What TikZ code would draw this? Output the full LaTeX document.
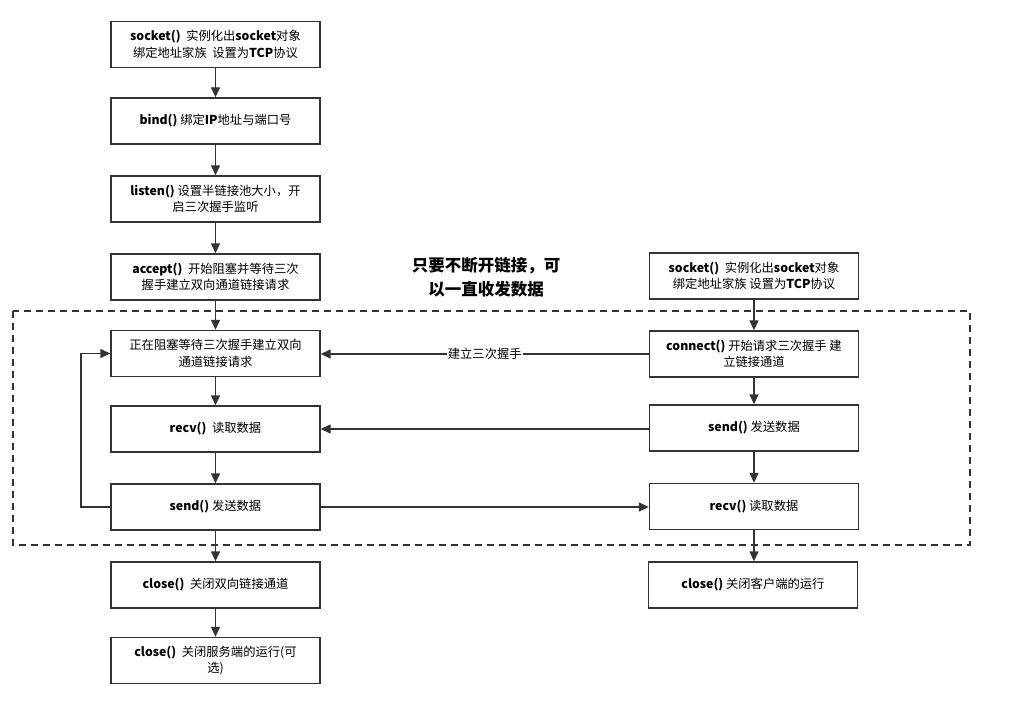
\documentclass[tikz,border=0pt]{standalone}
\usepackage{fontspec}
\setmainfont{Noto Sans CJK SC}
\usetikzlibrary{arrows.meta}
\definecolor{ln}{HTML}{333333}
\tikzset{
  box/.style={draw=ln, line width=1.4pt, minimum width=209pt, minimum height=46pt,
    align=center, font=\fontsize{12.3}{16.5}\selectfont, inner sep=2pt, text=black},
  arr/.style={draw=ln, line width=1.4pt, -{Triangle[length=10pt,width=9pt]}},
  zone/.style={draw=ln, line width=1.4pt, dash pattern=on 7pt off 5pt},
}
\begin{document}
\begin{tikzpicture}[x=1pt,y=-1pt]
\useasboundingbox (0,0) rectangle (1017,703);
% dashed zone
\draw[zone] (13,311) rectangle (970,545);
% left column
\node[box] (s1) at (215.5,44.5) {\textbf{socket()}\ \ 实例化出\textbf{socket}对象\\绑定地址家族\ \ 设置为\textbf{TCP}协议};
\node[box] (s2) at (215.5,121) {\textbf{bind()} 绑定\textbf{IP}地址与端口号};
\node[box] (s3) at (215.5,199) {\textbf{listen()} 设置半链接池大小，开\\启三次握手监听};
\node[box] (s4) at (215.5,277) {\textbf{accept()}\ \ 开始阻塞并等待三次\\握手建立双向通道链接请求};
\node[box] (s5) at (215.5,353.5) {正在阻塞等待三次握手建立双向\\通道链接请求};
\node[box] (s6) at (215.5,429) {\textbf{recv()}\ \ 读取数据};
\node[box] (s7) at (215.5,507) {\textbf{send()} 发送数据};
\node[box] (s8) at (215.5,585) {\textbf{close()}\ \ 关闭双向链接通道};
\node[box] (s9) at (215.5,660.5) {\textbf{close()}\ \ 关闭服务端的运行(可\\选)};
% right column
\node[box] (r1) at (754,276) {\textbf{socket()}\ \ 实例化出\textbf{socket}对象\\绑定地址家族 设置为\textbf{TCP}协议};
\node[box] (r2) at (754,354) {\textbf{connect()} 开始请求三次握手 建\\立链接通道};
\node[box] (r3) at (754,428) {\textbf{send()} 发送数据};
\node[box] (r4) at (754,506.5) {\textbf{recv()} 读取数据};
\node[box] (r5) at (753,585) {\textbf{close()} 关闭客户端的运行};
% middle label
\node[align=center, font=\fontsize{16.5}{24}\selectfont\bfseries] (lbl) at (486,277) {只要不断开链接，可\\以一直收发数据};
% left arrows
\draw[arr] (s1) -- (s2);
\draw[arr] (s2) -- (s3);
\draw[arr] (s3) -- (s4);
\draw[arr] (s4) -- (s5);
\draw[arr] (s5) -- (s6);
\draw[arr] (s6) -- (s7);
\draw[arr] (s7) -- (s8);
\draw[arr] (s8) -- (s9);
% loop
\coordinate (lp1) at (81,507);
\coordinate (lp2) at (81,353.5);
\draw[arr] (s7.west) -- (lp1) -- (lp2) -- (s5.west);
% right arrows
\draw[arr] (r1.south -| r2) -- (r2);
\draw[arr] (r2) -- (r3);
\draw[arr] (r3) -- (r4);
\draw[arr] (r4.south) -- (r4.south |- r5.north);
% cross arrows
\draw[arr] (r2.west) -- (s5.east |- r2.west) node[midway, fill=white, inner sep=1pt, font=\fontsize{12.3}{14}\selectfont] {建立三次握手};
\draw[arr] (r3.west |- s6.east) -- (s6.east);
\draw[arr] (s7.east) -- (r4.west |- s7.east);
\end{tikzpicture}
\end{document}
